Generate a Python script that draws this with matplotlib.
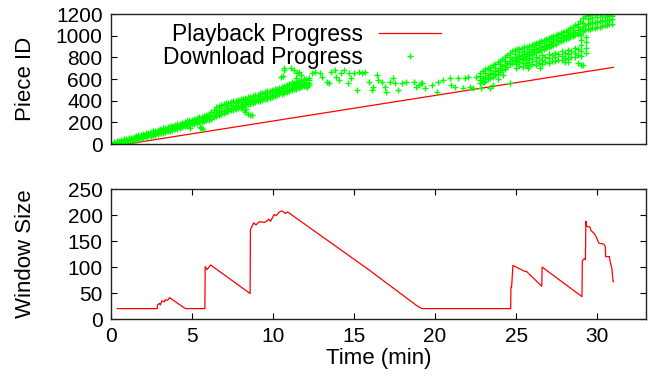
#!/usr/bin/env python3
"""Playback / download progress and window size over time."""

import matplotlib
matplotlib.use("Agg")
import matplotlib.pyplot as plt
from matplotlib.lines import Line2D

plt.rcParams["font.family"] = ["Liberation Sans", "DejaVu Sans"]
plt.rcParams["font.size"] = 15

RED = "#ff0000"
GREEN = "#00ff00"

# playback progress (straight line)
play_t = [1.0, 31.0]
play_v = [0, 708]

# download progress: dense early band, one column per time step
band_a_t = [0.2, 0.5, 0.8, 1.1, 1.4, 1.7, 2.0, 2.3, 2.6, 2.9, 3.2, 3.5, 3.8, 4.1,
            4.4, 4.7, 5.0, 5.3, 5.6, 5.9, 6.2, 6.5, 6.8, 7.1, 7.4, 7.7, 8.0, 8.3,
            8.6, 8.9, 9.2, 9.5, 9.8, 10.1, 10.4, 10.7, 11.0, 11.3, 11.6, 11.9, 12.2]
band_a_v = [
    [0, 6, 14, 20], [4, 12, 22, 30], [14, 22, 30, 42], [24, 33, 45, 55],
    [35, 44, 55, 66], [46, 55, 68, 80], [58, 70, 82, 95], [70, 80, 92, 106],
    [80, 92, 104, 116], [94, 104, 118, 130], [105, 117, 130, 146],
    [118, 130, 142, 156], [130, 142, 156, 170], [143, 155, 168, 182],
    [155, 168, 182, 196], [168, 181, 195, 210], [184, 196, 210, 226],
    [194, 208, 224, 240], [205, 220, 236, 252], [220, 234, 250, 266],
    [232, 248, 268, 292], [258, 282, 310, 340], [280, 302, 330, 360],
    [295, 318, 348, 376], [310, 334, 362, 390], [325, 348, 376, 400],
    [340, 362, 388, 412], [358, 378, 402, 426], [374, 394, 416, 436],
    [390, 408, 430, 450], [398, 420, 446, 470], [412, 434, 458, 482],
    [428, 448, 470, 494], [444, 462, 484, 506], [458, 478, 498, 520],
    [474, 492, 514, 536], [488, 508, 528, 550], [504, 522, 544, 566],
    [518, 536, 558, 580], [534, 552, 574, 596], [548, 566, 590, 610],
]
band_a2_t = [0.35, 0.65, 0.95, 1.25, 1.55, 1.85, 2.15, 2.45, 2.75, 3.05, 3.35,
             3.65, 3.95, 4.25, 4.55, 4.85, 5.15, 5.45, 5.75, 6.05, 6.35, 6.65,
             6.95, 7.25, 7.55, 7.85, 8.15, 8.45, 8.75, 9.05, 9.35, 9.65, 9.95,
             10.25, 10.55, 10.85, 11.15, 11.45, 11.75, 12.05]
band_a2_v = [
    [3, 12, 24], [9, 20, 34], [19, 30, 46], [30, 42, 58], [40, 52, 70],
    [52, 64, 86], [64, 78, 98], [76, 88, 110], [86, 100, 122], [100, 112, 136],
    [112, 124, 150], [124, 138, 162], [136, 150, 176], [150, 162, 188],
    [162, 176, 202], [176, 190, 218], [188, 202, 232], [200, 216, 246],
    [212, 228, 258], [226, 242, 276], [246, 270, 318], [270, 296, 350],
    [288, 312, 368], [302, 328, 382], [318, 342, 394], [332, 356, 406],
    [350, 372, 418], [366, 388, 430], [382, 402, 444], [394, 416, 456],
    [406, 428, 470], [420, 442, 486], [436, 456, 500], [450, 472, 512],
    [466, 486, 528], [480, 502, 542], [496, 516, 558], [510, 530, 572],
    [526, 546, 588], [540, 560, 602],
]

# download progress: upper band at the end
band_b_t = [22.8, 23.1, 23.4, 23.7, 24.0, 24.3, 24.6, 24.9, 25.2, 25.5, 25.8,
            26.1, 26.4, 26.7, 27.0, 27.3, 27.6, 27.9, 28.2, 28.5, 28.8, 29.1,
            29.4, 29.7, 30.0, 30.3, 30.6, 30.9]
band_b_v = [
    [560, 595, 630, 660], [585, 620, 655, 690], [610, 645, 680, 712],
    [635, 670, 705, 740], [665, 700, 735, 770], [695, 730, 765, 800],
    [735, 770, 805, 840], [765, 800, 835, 870], [785, 815, 850, 880],
    [800, 830, 862, 892], [820, 848, 876, 904], [838, 866, 894, 922],
    [858, 886, 914, 942], [878, 906, 934, 962], [898, 926, 954, 982],
    [918, 946, 974, 1000], [938, 964, 990, 1014], [958, 984, 1010, 1034],
    [978, 1004, 1030, 1054], [998, 1026, 1054, 1082], [1018, 1050, 1080, 1112],
    [1040, 1080, 1120, 1160], [1060, 1110, 1150, 1195], [1070, 1120, 1160, 1198],
    [1080, 1130, 1170, 1200], [1090, 1140, 1175, 1200], [1100, 1145, 1180, 1200],
    [1110, 1150, 1185, 1200],
]
band_b2_t = [22.95, 23.25, 23.55, 23.85, 24.15, 24.45, 24.75, 25.05, 25.35,
             25.65, 25.95, 26.25, 26.55, 26.85, 27.15, 27.45, 27.75, 28.05,
             28.35, 28.65, 28.95, 29.25, 29.55, 29.85, 30.15, 30.45, 30.75]
band_b2_v = [
    [575, 612, 675], [598, 635, 700], [622, 660, 726], [650, 688, 755],
    [680, 718, 785], [715, 750, 820], [750, 788, 855], [775, 808, 875],
    [792, 822, 886], [810, 840, 898], [828, 858, 914], [848, 876, 932],
    [868, 896, 952], [888, 916, 972], [908, 936, 990], [928, 956, 1008],
    [948, 975, 1024], [968, 994, 1044], [988, 1015, 1068], [1008, 1038, 1098],
    [1028, 1064, 1140], [1050, 1095, 1180], [1065, 1115, 1190],
    [1075, 1125, 1200], [1085, 1135, 1200], [1095, 1142, 1200],
    [1105, 1148, 1200],
]

# download progress: lower band at the end
band_c_t = [25.0, 25.2, 25.4, 25.6, 25.8, 26.0, 26.2, 26.4, 26.6, 26.8, 27.0,
            27.2, 27.4, 27.6, 27.8, 28.0, 28.2, 28.4, 28.6, 28.8, 29.0, 29.3]
band_c_v = [
    [705, 740, 775], [722, 760], [712, 748, 782], [730, 772], [722, 756, 792],
    [740, 782], [732, 768, 805], [750, 795], [742, 780, 818], [760, 808],
    [752, 790, 830], [770, 820], [762, 800, 842], [780, 832], [775, 815, 855],
    [795, 845], [788, 828, 868], [808, 858], [800, 842, 885], [820, 875],
    [810, 860, 910, 960, 1010], [840, 890, 940, 990],
]

# download progress: loose points
loose_t = [4.87, 5.5, 5.58, 5.7, 8.0, 8.2, 8.3, 8.35, 8.45, 8.6, 8.7,
           10.5, 10.59, 10.69, 10.7, 11.1, 11.3, 11.4, 11.5, 11.6, 11.7, 11.2,
           11.5, 11.8, 12.1, 12.4, 12.6, 12.9, 13.0, 13.35, 13.45, 13.6, 13.8,
           13.9, 14.1, 14.2, 14.4, 14.6, 14.7, 14.8, 15.0, 15.2, 15.3, 15.5,
           15.7, 15.9, 16.1, 16.2, 16.4, 16.5, 16.7, 16.9, 17.0, 17.2, 17.4,
           17.5, 17.7, 17.95, 18.2, 18.7, 18.8, 19.0, 19.2, 19.4, 19.1, 19.8,
           20.1, 20.2, 20.5, 20.9, 21.0, 21.2, 21.4, 21.7, 21.85, 22.0, 22.15,
           22.35, 22.55, 22.85, 23.0, 23.4, 23.6, 23.9, 24.2, 24.6, 25.58,
           25.7, 26.5, 28.0, 28.2, 28.8, 29.0, 29.1]
loose_v = [145, 160, 148, 140, 330, 310, 295, 320, 280, 265, 270,
           621, 628, 683, 698, 698, 683, 606, 652, 668, 637, 575,
           560, 545, 529, 652, 668, 652, 621, 575, 560, 668, 683,
           621, 591, 652, 683, 560, 652, 606, 652, 498, 668, 652,
           668, 575, 498, 529, 637, 591, 575, 529, 483, 575, 606,
           560, 498, 560, 575, 575, 529, 545, 560, 514, 560, 545,
           483, 575, 591, 606, 545, 529, 606, 514, 606, 621, 529,
           514, 621, 514, 570, 514, 545, 600, 640, 563, 745,
           701, 701, 760, 760, 745, 729, 732]


def flatten(ts, vs):
    xs, ys = [], []
    for t, col in zip(ts, vs):
        for v in col:
            xs.append(t)
            ys.append(v)
    return xs, ys


# window size
win_t = [0.4, 2.86, 2.88, 3.0, 3.05, 3.15, 3.3, 3.35, 3.5, 3.62, 4.6, 5.8,
         5.82, 5.93, 6.15, 8.59, 8.61, 8.81, 8.95, 9.15, 9.5, 9.75, 9.85,
         10.07, 10.2, 10.4, 10.56, 10.76, 10.9, 15.9, 18.9, 19.2, 24.66,
         24.68, 24.72, 24.8, 25.58, 25.62, 26.58, 26.6, 29.06, 29.08, 29.2,
         29.27, 29.3, 29.35, 29.55, 29.62, 29.83, 29.95, 30.1, 30.4, 30.5,
         30.52, 30.75, 30.81, 30.9, 30.98, 31.0]
win_v = [20, 20, 27, 30, 27, 35, 33, 37, 36, 41, 20, 20,
         101, 95, 104, 49, 172, 185, 181, 187, 186, 192, 188,
         201, 199, 206, 208, 203, 206, 95, 25, 20, 20,
         62, 62, 103, 91, 92, 63, 100, 43, 112, 116,
         114, 188, 178, 177, 170, 164, 157, 146, 144, 139,
         120, 120, 108, 98, 72, 72]


def style(ax):
    for s in ax.spines.values():
        s.set_linewidth(1.0)
        s.set_color("#222222")
    ax.tick_params(direction="in", length=4, width=0.8, right=True, pad=6)


fig = plt.figure(figsize=(6.52, 3.8), dpi=100)
ax1 = fig.add_axes([0.170, 0.621, 0.8206, 0.342])
ax2 = fig.add_axes([0.170, 0.1605, 0.8206, 0.342])

# top panel
ax1.plot(play_t, play_v, color=RED, lw=0.9)
pts = [flatten(band_a_t, band_a_v), flatten(band_a2_t, band_a2_v),
       flatten(band_b_t, band_b_v), flatten(band_b2_t, band_b2_v),
       flatten(band_c_t, band_c_v), (loose_t, loose_v)]
for xs, ys in pts:
    ax1.plot(xs, ys, ls="none", marker="+", ms=5, mew=1.0, color=GREEN)
ax1.set_xlim(0, 33)
ax1.set_ylim(0, 1200)
ax1.set_yticks([0, 200, 400, 600, 800, 1000, 1200])
ax1.set_ylabel("Piece ID", fontsize=16)
style(ax1)
ax1.tick_params(axis="x", bottom=False, labelbottom=False)
handles = [Line2D([], [], color=RED, lw=0.9),
           Line2D([], [], ls="none", marker="+", ms=5, mew=1.0, color=GREEN)]
ax1.legend(handles, ["Playback Progress", "Download Progress"],
           loc="upper right", bbox_to_anchor=(0.617, 0.93), frameon=False,
           markerfirst=False, handlelength=2.7, handletextpad=0.7,
           labelspacing=0.0, borderpad=0, borderaxespad=0, fontsize=16.5)

# bottom panel
ax2.plot(win_t, win_v, color=RED, lw=0.9)
ax2.set_xlim(0, 33)
ax2.set_ylim(0, 250)
ax2.set_xticks([0, 5, 10, 15, 20, 25, 30])
ax2.set_yticks([0, 50, 100, 150, 200, 250])
ax2.set_xlabel("Time (min)", labelpad=1, fontsize=16)
ax2.set_ylabel("Window Size", fontsize=16)
style(ax2)
ax2.tick_params(top=True)

ax1.yaxis.set_label_coords(-0.14, 0.5)
ax2.yaxis.set_label_coords(-0.14, 0.5)

fig.savefig("out.png", dpi=100)
